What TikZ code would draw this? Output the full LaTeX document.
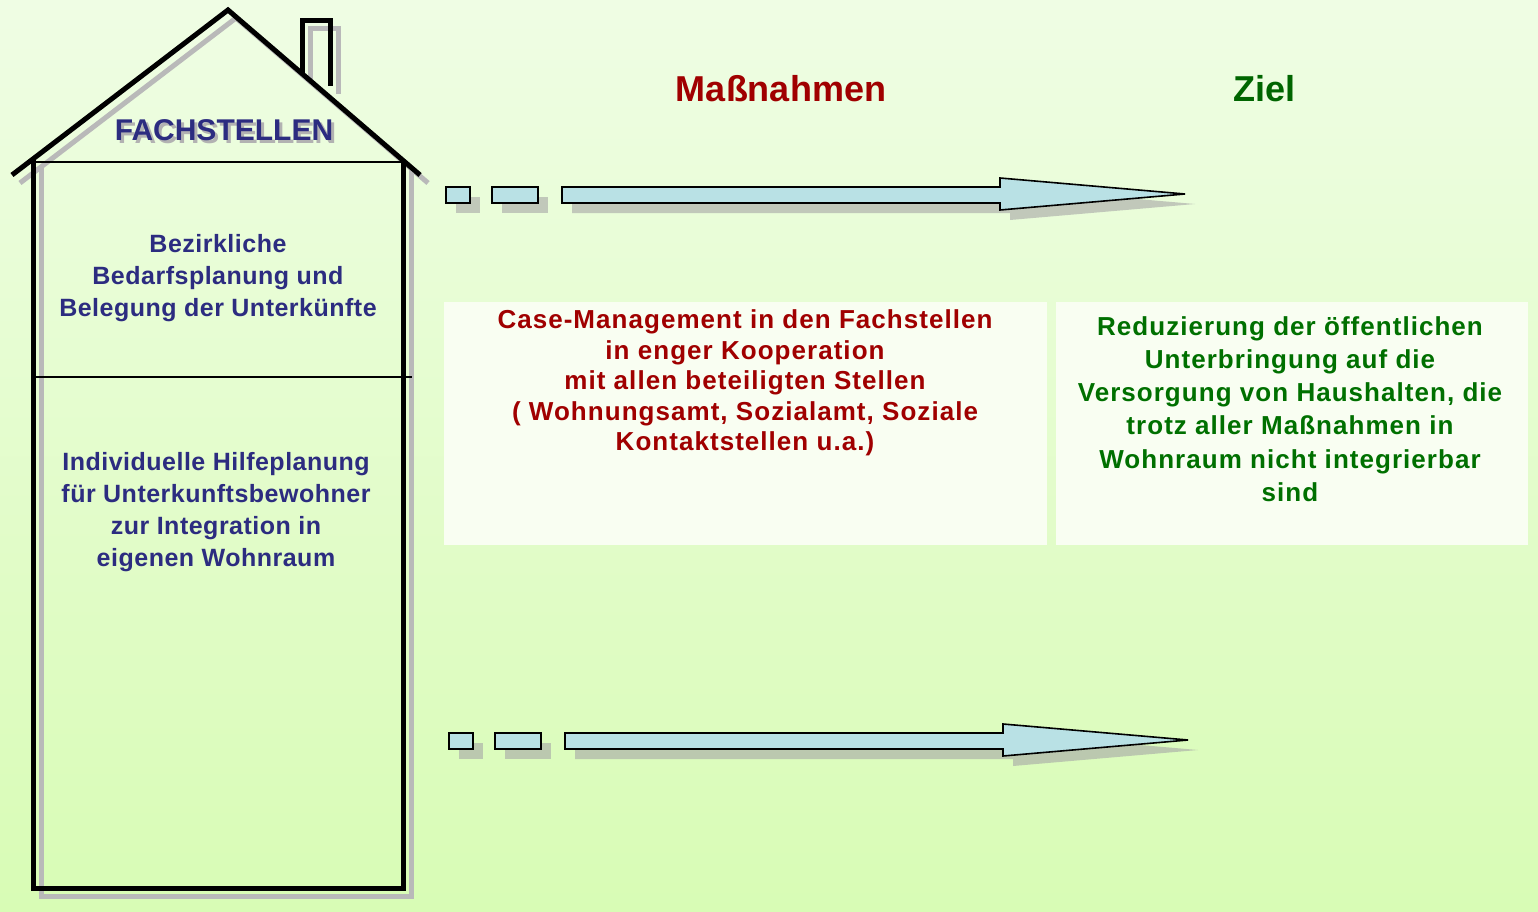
\documentclass[tikz,border=0pt]{standalone}
\usepackage{fontspec}
\setmainfont{Liberation Sans}
\newfontfamily\spacedfont[LetterSpace=4]{Liberation Sans}
\newfontfamily\housefont[LetterSpace=2]{Liberation Sans}
\usetikzlibrary{positioning}
\definecolor{bgtop}{HTML}{EFFDE4}
\definecolor{bgbottom}{HTML}{D8FCB5}
\definecolor{navytext}{HTML}{2C2C80}
\definecolor{redtext}{HTML}{A00000}
\definecolor{greentext}{HTML}{007000}
\definecolor{arrowblue}{HTML}{B9E1E5}
\definecolor{boxfill}{HTML}{F9FEF2}
\begin{document}
\begin{tikzpicture}[x=1pt,y=-1pt]
\tikzset{wall/.style = {line width=5pt, line join=miter}}
\tikzset{floorline/.style = {line width=2pt}}
\tikzset{arrowpart/.style = {draw=black, line width=1.6pt, fill=arrowblue}}
\tikzset{arrowshadow/.style = {fill=gray!70, opacity=0.6}}
\tikzset{infobox/.style = {fill=boxfill, minimum width=#1, minimum height=243pt, inner sep=0pt}}
\tikzset{housetext/.style = {font=\housefont\bfseries\fontsize{25}{32}\selectfont, align=center, text=navytext}}
\tikzset{redbody/.style = {font=\spacedfont\bfseries\fontsize{26}{30.5}\selectfont, align=center, text=redtext}}
\tikzset{greenbody/.style = {font=\spacedfont\bfseries\fontsize{26}{33.2}\selectfont, align=center, text=greentext}}
\tikzset{heading/.style = {font=\bfseries\fontsize{36}{40}\selectfont}}
% background
\fill[top color=bgtop, bottom color=bgbottom] (0,0) rectangle (1538,912);
\useasboundingbox (0,0) rectangle (1538,912);
% house shadow
\begin{scope}[shift={(8,8)}, draw=gray!55]
\draw[wall, gray!55] (12,175) -- (228,10) -- (420,175);
\draw[wall, gray!55] (302,74) -- (302,21) -- (330,21) -- (330,86);
\draw[wall, gray!55] (33,160) -- (33,888) -- (403,888) -- (403,160);
\end{scope}
% house
\draw[wall] (12,175) -- (228,10) -- (420,175);
\draw[wall] (302,74) -- (302,21) -- (330,21) -- (330,86);
\draw[wall] (33,160) -- (33,888) -- (403,888) -- (403,160);
\draw[floorline] (33,162) -- (403,162);
\draw[floorline] (33,377) -- (412,377);
% roof label with shadow
\node[heading, font=\bfseries\fontsize{30}{34}\selectfont, text=gray!60] at (227,133) {FACHSTELLEN};
\node[heading, font=\bfseries\fontsize{30}{34}\selectfont, text=navytext] (fach) at (224,130) {FACHSTELLEN};
% rooms
\node[housetext] (planung) at (218,278) {Bezirkliche\\Bedarfsplanung und\\Belegung der Unterkünfte};
\node[housetext] (hilfe) at (216,512) {Individuelle Hilfeplanung\\für Unterkunftsbewohner\\zur Integration in\\eigenen Wohnraum};
% headings
\node[heading, text=redtext] (mass) at (781,89) {Maßnahmen};
\node[heading, text=greentext!90!black] (ziel) at (1264,89) {Ziel};
% arrows
\foreach \d/\c in {0/195, 3/741} {
  \begin{scope}[shift={(10,10)}]
  \fill[arrowshadow] (446+\d,\c-8) rectangle (470+\d,\c+8);
  \fill[arrowshadow] (492+\d,\c-8) rectangle (538+\d,\c+8);
  \fill[arrowshadow] (562+\d,\c-8) -- (1000+\d,\c-8) -- (1000+\d,\c-17) -- (1185+\d,\c-1)
    -- (1000+\d,\c+15) -- (1000+\d,\c+8) -- (562+\d,\c+8) -- cycle;
  \end{scope}
  \draw[arrowpart] (446+\d,\c-8) rectangle (470+\d,\c+8);
  \draw[arrowpart] (492+\d,\c-8) rectangle (538+\d,\c+8);
  \draw[arrowpart] (562+\d,\c-8) -- (1000+\d,\c-8) -- (1000+\d,\c-17) -- (1185+\d,\c-1)
    -- (1000+\d,\c+15) -- (1000+\d,\c+8) -- (562+\d,\c+8) -- cycle;
}
% boxes
\node[infobox=603pt] (massbox) at (745.5,423.5) {};
\node[infobox=472pt] (zielbox) at (1292,423.5) {};
\node[redbody] (masstext) at (745,383) {Case-Management in den Fachstellen\\in enger Kooperation\\mit allen beteiligten Stellen\\( Wohnungsamt, Sozialamt, Soziale\\Kontaktstellen u.a.)};
\node[greenbody] (zieltext) at (1290,409) {Reduzierung der öffentlichen\\Unterbringung auf die\\Versorgung von Haushalten, die\\trotz aller Maßnahmen in\\Wohnraum nicht integrierbar\\sind};
\end{tikzpicture}
\end{document}
